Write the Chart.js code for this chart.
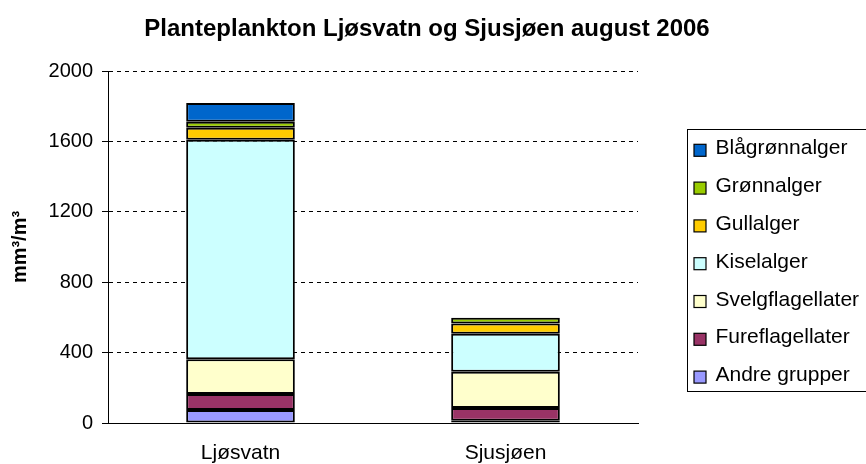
<!DOCTYPE html>
<html><head><meta charset="utf-8">
<script src="https://cdn.jsdelivr.net/npm/chart.js@4/dist/chart.umd.min.js"></script>
<style>html,body{margin:0;padding:0;background:#fff;} canvas{display:block;}</style>
</head><body>
<canvas id="c" width="866" height="464"></canvas>
<script>
const categories = ['Ljøsvatn', 'Sjusjøen'];
const seriesNames = ['Andre grupper', 'Fureflagellater', 'Svelgflagellater', 'Kiselalger', 'Gullalger', 'Grønnalger', 'Blågrønnalger'];
const andreGrupper = [74, 13];
const fureflagellater = [91, 72];
const svelgflagellater = [197, 206];
const kiselalger = [1248, 216];
const gullalger = [68, 59];
const gronnalger = [34, 32];
const blagronnalger = [106, 0];
const yTickValues = [0, 400, 800, 1200, 1600, 2000];
const seriesColors = ['#9999FF', '#993366', '#FFFFCC', '#CCFFFF', '#FFCC00', '#99CC00', '#0066CC'];

const FONT = "'Liberation Sans', Arial, sans-serif";
const seriesValues = [andreGrupper, fureflagellater, svelgflagellater, kiselalger, gullalger, gronnalger, blagronnalger];

const datasets = seriesNames.map((name, i) => ({
  label: name,
  data: seriesValues[i],
  backgroundColor: seriesColors[i],
  borderColor: '#000',
  borderWidth: 2,
  borderSkipped: false,
  categoryPercentage: 1,
  barPercentage: 0.41
}));

const boxLegend = {
  id: 'boxLegend',
  afterDraw(chart) {
    const ctx = chart.ctx;
    ctx.save();
    ctx.strokeStyle = '#000';
    ctx.lineWidth = 1;
    ctx.strokeRect(687.5, 129.5, 190, 262);
    const items = chart.data.datasets.map((d) => ({label: d.label, color: d.backgroundColor})).reverse();
    ctx.font = '21px ' + FONT;
    ctx.textBaseline = 'alphabetic';
    ctx.textAlign = 'left';
    items.forEach((it, i) => {
      const yb = 154.3 + i * 37.8;
      ctx.fillStyle = it.color;
      ctx.fillRect(694, yb - 10, 12, 12);
      ctx.strokeStyle = '#000';
      ctx.lineWidth = 1.2;
      ctx.strokeRect(694, yb - 10, 12, 12);
      ctx.fillStyle = '#000';
      ctx.fillText(it.label, 715.5, yb);
    });
    ctx.restore();
  }
};

new Chart(document.getElementById('c'), {
  type: 'bar',
  data: { labels: categories, datasets },
  options: {
    responsive: false,
    animation: false,
    layout: { padding: { left: 0, right: 12, top: 0, bottom: 0 } },
    plugins: {
      legend: { display: false },
      tooltip: { enabled: false },
      title: {
        display: true,
        text: 'Planteplankton Ljøsvatn og Sjusjøen august 2006',
        color: '#000',
        font: { family: FONT, size: 24, weight: 'bold' },
        padding: { top: 15, bottom: 27.2 }
      }
    },
    scales: {
      x: {
        stacked: true,
        grid: { display: false, drawTicks: false },
        border: { display: true, color: '#000', width: 1 },
        ticks: { color: '#000', font: { family: FONT, size: 21 }, padding: 18 },
        afterFit: s => { s.height = 41; }
      },
      y: {
        stacked: true,
        min: 0,
        max: 2000,
        afterBuildTicks: s => { s.ticks = yTickValues.map(v => ({ value: v })); },
        grid: { color: '#000', lineWidth: 1, tickLength: 6, tickColor: '#000', tickBorderDash: [], drawTicks: true },
        border: { display: true, color: '#000', width: 1, dash: [4, 4] },
        ticks: { color: '#000', font: { family: FONT, size: 20 }, padding: 9, callback: v => String(v) },
        title: {
          display: true,
          text: 'mm³/m³',
          color: '#000',
          font: { family: FONT, size: 20, weight: 'bold' },
          padding: { top: 8, bottom: 0 }
        },
        afterFit: s => { s.width = 108; }
      },
      yR: {
        position: 'right',
        display: true,
        grid: { display: false, drawTicks: false },
        border: { display: false },
        ticks: { display: false },
        afterFit: s => { s.width = 216; }
      }
    }
  },
  plugins: [boxLegend]
});
</script>
</body></html>
